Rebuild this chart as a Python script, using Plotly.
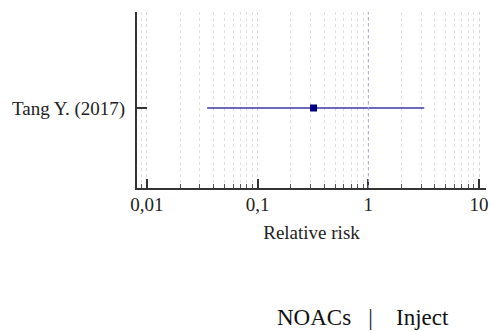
import plotly.graph_objects as go

studies = ["Tang Y. (2017)"]
rr = [0.32]
ci_low = [0.035]
ci_high = [3.2]
tick_vals = [0.01, 0.1, 1, 10]
tick_text = ["0,01", "0,1", "1", "10"]
x_title = "Relative risk"
footer = "NOACs   |    Inject"

SERIF = "Liberation Serif, Times New Roman, serif"

fig = go.Figure()
fig.add_trace(go.Scatter(
    x=rr, y=studies, mode="markers",
    marker=dict(symbol="square", size=7, color="#000080"),
    error_x=dict(type="data", symmetric=False,
                 array=[h - r for h, r in zip(ci_high, rr)],
                 arrayminus=[r - l for r, l in zip(rr, ci_low)],
                 color="#3a3aa8", thickness=1.6, width=0),
    showlegend=False,
))

fig.add_vline(x=1, line=dict(color="#a8a8d8", width=1, dash="dot"))

fig.update_layout(
    width=491, height=331,
    margin=dict(l=137, r=3, t=12, b=143),
    plot_bgcolor="white", paper_bgcolor="white",
    font=dict(family=SERIF, size=19, color="#222"),
    xaxis=dict(
        type="log", range=[-2.09, 1.063],
        tickvals=tick_vals, ticktext=tick_text,
        ticks="inside", ticklen=9, tickwidth=2, tickcolor="#333",
        showline=True, linecolor="#333", linewidth=2,
        showgrid=True, gridcolor="#d8d8d8", griddash="dot", gridwidth=1,
        minor=dict(ticks="inside", ticklen=4, tickwidth=1, tickcolor="#555",
                   showgrid=True, gridcolor="#e0e0e0", griddash="dot",
                   dtick="D1"),
        title=dict(text=x_title, font=dict(size=19, family=SERIF), standoff=12),
        zeroline=False,
        tickfont=dict(size=19, family=SERIF),
        ticklabelstandoff=-2,
    ),
    yaxis=dict(
        range=[-0.5, 0.6],
        showline=True, linecolor="#333", linewidth=2,
        ticks="inside", ticklen=10, tickwidth=2, tickcolor="#333",
        showgrid=False, zeroline=False,
        tickfont=dict(size=19, family=SERIF),
        ticklabelstandoff=6,
    ),
    annotations=[dict(
        text=footer, xref="paper", yref="paper",
        x=0.647, y=-0.738, xanchor="center", yanchor="middle",
        showarrow=False, font=dict(size=23, family=SERIF, color="#111"),
    )],
)

fig.write_html("out.html")
